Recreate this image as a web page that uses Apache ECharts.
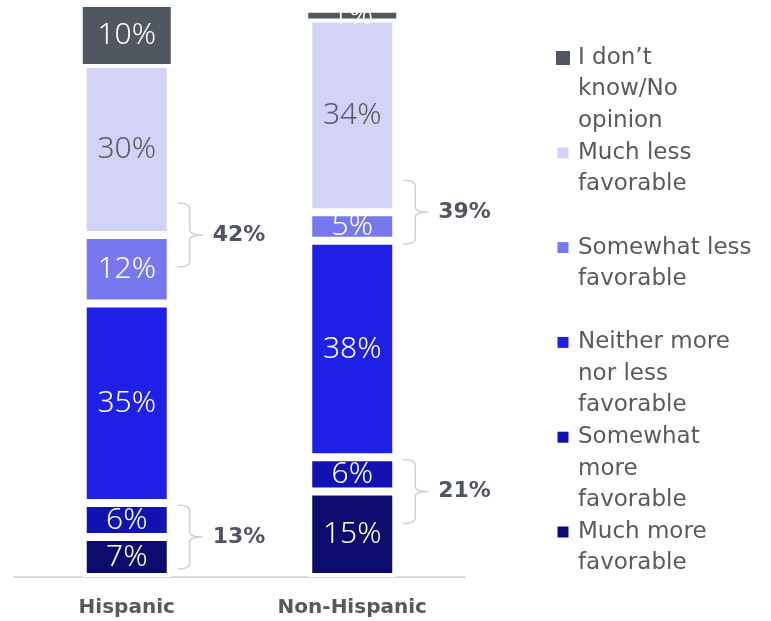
<!DOCTYPE html>
<html>
<head>
<meta charset="utf-8">
<script src="https://cdn.jsdelivr.net/npm/echarts@6/dist/echarts.min.js"></script>
<style>
  html, body { margin: 0; padding: 0; background: #fff; }
  #myChart { width: 771px; height: 621px; }
</style>
</head>
<body>
<div id="myChart"></div>
<script>
var categories = ['Hispanic', 'Non-Hispanic'];

// stacked from the bottom up
var seriesNames = [
    'Much more favorable',
    'Somewhat more favorable',
    'Neither more nor less favorable',
    'Somewhat less favorable',
    'Much less favorable',
    'I don’t know/No opinion'
];
var muchMore = [7, 15];
var somewhatMore = [6, 6];
var neither = [35, 38];
var somewhatLess = [12, 5];
var muchLess = [30, 34];
var dontKnow = [10, 1];

// legend text, same order as seriesNames, with the line breaks of the original
var legendLabels = [
    'Much more\nfavorable',
    'Somewhat\nmore\nfavorable',
    'Neither more\nnor less\nfavorable',
    'Somewhat less\nfavorable',
    'Much less\nfavorable',
    'I don’t\nknow/No\nopinion'
];

var colors = ['#0c0c6e', '#1212b0', '#1f1fe6', '#7878ee', '#d3d3f8', '#515761'];
var labelColors = ['#fff', '#fff', '#fff', '#fff', '#555a63', '#fff'];
var values = [muchMore, somewhatMore, neither, somewhatLess, muchLess, dontKnow];

var BAR_W = 88;
var FONT = '"Noto Sans", sans-serif';
var WIDE = '"DejaVu Sans", sans-serif';

// brackets: [category, boundary value, group total]
var brackets = [];
categories.forEach(function (c, i) {
    var lessBoundary = muchMore[i] + somewhatMore[i] + neither[i] + somewhatLess[i];
    brackets.push([i, lessBoundary, somewhatLess[i] + muchLess[i]]);
    brackets.push([i, muchMore[i], muchMore[i] + somewhatMore[i]]);
});

var series = seriesNames.map(function (name, k) {
    var isDark = k === 5;
    return {
        name: name,
        type: 'bar',
        stack: 'total',
        barWidth: BAR_W,
        data: values[k],
        itemStyle: {
            color: colors[k],
            borderColor: '#fff',
            borderWidth: isDark ? 0 : 4
        },
        label: {
            show: true,
            position: 'inside',
            formatter: '{c}%',
            color: labelColors[k],
            fontSize: 30,
            fontWeight: 300,
            fontFamily: FONT
        }
    };
});

series.push({
    type: 'custom',
    name: 'brackets',
    data: brackets,
    encode: { x: 0, y: 1 },
    z: 5,
    renderItem: function (params, api) {
        var p = api.coord([api.value(0), api.value(1)]);
        var cy = p[1];
        var x0 = p[0] + BAR_W / 2 + 7;
        var xv = x0 + 12;
        var xt = xv + 13;
        var h = 32;
        var top = cy - h, bot = cy + h;
        var d = 'M' + x0 + ',' + top +
            ' Q' + xv + ',' + top + ' ' + xv + ',' + (top + 6) +
            ' L' + xv + ',' + (cy - 5) +
            ' Q' + xv + ',' + cy + ' ' + xt + ',' + cy +
            ' Q' + xv + ',' + cy + ' ' + xv + ',' + (cy + 5) +
            ' L' + xv + ',' + (bot - 6) +
            ' Q' + xv + ',' + bot + ' ' + x0 + ',' + bot;
        return {
            type: 'group',
            children: [
                {
                    type: 'path',
                    shape: { pathData: d },
                    style: { fill: null, stroke: '#d0d0d0', lineWidth: 1.5 }
                },
                {
                    type: 'text',
                    style: {
                        text: api.value(2) + '%',
                        x: xt + 10,
                        y: cy,
                        verticalAlign: 'middle',
                        fill: '#50555f',
                        font: 'bold 22px ' + WIDE
                    }
                }
            ]
        };
    }
});

// legend drawn as graphic so the swatch sits on the first text line
var legendGraphic = [];
var LINE_H = 31.5;
for (var j = 0; j < seriesNames.length; j++) {
    var k = seriesNames.length - 1 - j;
    var cy = 58 + j * 94.8;
    var sz = k === 5 ? 14 : 11;
    legendGraphic.push({
        type: 'rect',
        left: 563 - sz / 2,
        top: cy - sz / 2,
        shape: { width: sz, height: sz },
        style: { fill: colors[k] }
    });
    legendGraphic.push({
        type: 'text',
        left: 578,
        top: cy - LINE_H / 2,
        style: {
            text: legendLabels[k],
            fill: '#5a5a5a',
            font: '23px ' + WIDE,
            lineHeight: LINE_H
        }
    });
}

var chart = echarts.init(document.getElementById('myChart'));
chart.setOption({
    animation: false,
    grid: { left: 14, right: 306, top: 7, bottom: 44 },
    xAxis: {
        type: 'category',
        data: categories,
        axisTick: { show: false },
        axisLine: { lineStyle: { color: '#d9d9d9', width: 2 } },
        axisLabel: {
            color: '#595959',
            fontWeight: 'bold',
            fontSize: 20,
            fontFamily: WIDE,
            margin: 21
        }
    },
    yAxis: {
        type: 'value',
        min: 0,
        max: 100,
        show: false,
        splitLine: { show: false }
    },
    graphic: legendGraphic,
    series: series
});
</script>
</body>
</html>
